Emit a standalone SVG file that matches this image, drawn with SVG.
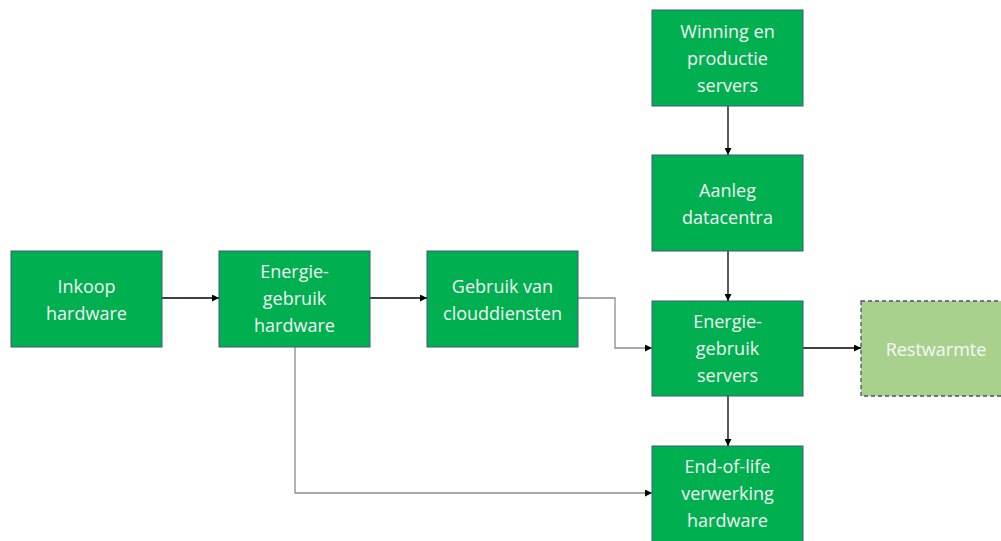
<svg xmlns="http://www.w3.org/2000/svg" width="1001" height="541" viewBox="0 0 1001 541">
<style>
.box{fill:#00b050;stroke:#3a5a78;stroke-width:1}
.rest{fill:#a9d18e;stroke:#44546a;stroke-width:1.3;stroke-dasharray:4 3}
.t{font-family:"Open Sans","Liberation Sans",sans-serif;font-size:18px;fill:#f2f2f2;text-anchor:middle}
.c{fill:none;stroke:#000;stroke-width:1.3}
.g{fill:none;stroke:#8c8c8c;stroke-width:1.3}
</style>
<defs>
<marker id="ah" viewBox="0 0 10 10" refX="10" refY="5" markerWidth="7" markerHeight="7" orient="auto" markerUnits="userSpaceOnUse">
<path d="M0,0 L10,5 L0,10 z" fill="#000"/>
</marker>
</defs>
<rect width="1001" height="541" fill="#fff"/>
<g id="connectors">
<path class="c" d="M162,298 H219" marker-end="url(#ah)"/>
<path class="c" d="M370,298 H427" marker-end="url(#ah)"/>
<path class="g" d="M578,298 H615 V348 H652" marker-end="url(#ah)"/>
<path class="g" d="M295,347 V493 H652" marker-end="url(#ah)"/>
<path class="c" d="M728,106 V155" marker-end="url(#ah)"/>
<path class="c" d="M728,251 V301" marker-end="url(#ah)"/>
<path class="c" d="M803,348 H861" marker-end="url(#ah)"/>
<path class="c" d="M728,396 V446" marker-end="url(#ah)"/>
</g>
<g id="inkoop">
<rect class="box" x="11" y="251" width="151" height="96"/>
<text class="t" x="86.5" y="293">Inkoop</text>
<text class="t" x="86.5" y="320">hardware</text>
</g>
<g id="energie-hardware">
<rect class="box" x="219" y="251" width="151" height="96"/>
<text class="t" x="294.5" y="278">Energie-</text>
<text class="t" x="294.5" y="305">gebruik</text>
<text class="t" x="294.5" y="332">hardware</text>
</g>
<g id="gebruik-cloud">
<rect class="box" x="427" y="251" width="151" height="96"/>
<text class="t" x="502.5" y="293">Gebruik van</text>
<text class="t" x="502.5" y="320">clouddiensten</text>
</g>
<g id="winning">
<rect class="box" x="652" y="10" width="151" height="96"/>
<text class="t" x="727.5" y="38">Winning en</text>
<text class="t" x="727.5" y="65">productie</text>
<text class="t" x="727.5" y="92">servers</text>
</g>
<g id="aanleg">
<rect class="box" x="652" y="155" width="151" height="96"/>
<text class="t" x="727.5" y="197">Aanleg</text>
<text class="t" x="727.5" y="224">datacentra</text>
</g>
<g id="energie-servers">
<rect class="box" x="652" y="301" width="151" height="95"/>
<text class="t" x="727.5" y="328">Energie-</text>
<text class="t" x="727.5" y="355">gebruik</text>
<text class="t" x="727.5" y="382">servers</text>
</g>
<g id="restwarmte">
<rect class="rest" x="861" y="301" width="145" height="95"/>
<text class="t" x="936" y="356" style="fill:#f7f7f7">Restwarmte</text>
</g>
<g id="end-of-life">
<rect class="box" x="652" y="446" width="151" height="100"/>
<text class="t" x="727.5" y="473">End-of-life</text>
<text class="t" x="727.5" y="500">verwerking</text>
<text class="t" x="727.5" y="527">hardware</text>
</g>
</svg>
